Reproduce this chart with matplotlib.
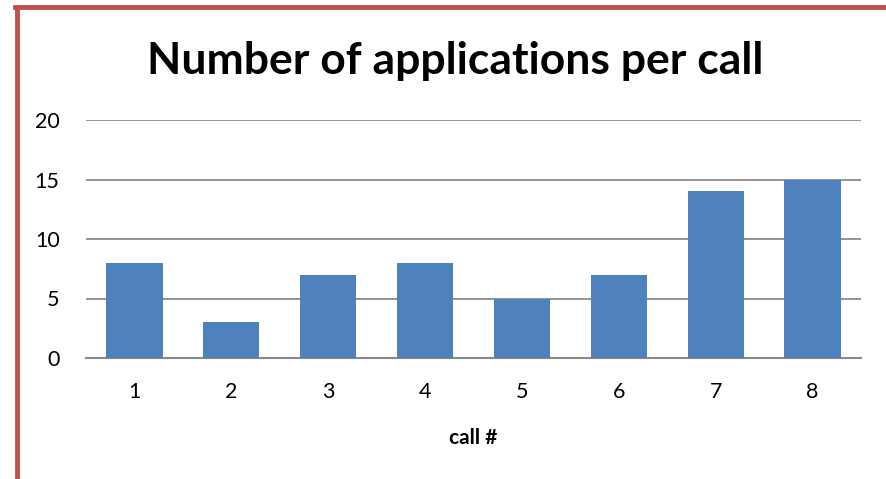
import matplotlib.pyplot as plt
from matplotlib.lines import Line2D

calls = ["1", "2", "3", "4", "5", "6", "7", "8"]
applications = [8, 3, 7, 8, 5, 7, 14, 15]
y_ticks = [0, 5, 10, 15, 20]

plt.rcParams["font.family"] = ["Lato", "DejaVu Sans"]

fig = plt.figure(figsize=(8.87, 4.79), dpi=100)
ax = fig.add_axes([86 / 887, 1 - 358 / 479, 775 / 887, 238 / 479])

x = list(range(len(calls)))
ax.bar(x, applications, width=0.58, color="#4F81BD", zorder=3)

ax.set_xlim(-0.5, len(calls) - 0.5)
ax.set_ylim(0, 20)
ax.set_yticks(y_ticks)
ax.set_xticks(x)
ax.set_xticklabels(calls)
ax.tick_params(axis="both", length=0, labelsize=15.5)
ax.tick_params(axis="y", pad=19)
ax.tick_params(axis="x", pad=17)
ax.yaxis.grid(True, color="#8a8a8a", linewidth=1.3, zorder=0)

for s in ["top", "right", "left"]:
    ax.spines[s].set_visible(False)
ax.spines["bottom"].set_color("#8a8a8a")
ax.spines["bottom"].set_linewidth(1.5)

ax.set_xlabel("call #", fontsize=15, fontweight="bold", labelpad=19)
fig.text(455 / 887, 1 - 61 / 479, "Number of applications per call",
         fontsize=32, fontweight="bold", ha="center", va="center")

# red frame around the chart
red = "#C0504D"
fig.add_artist(Line2D([17 / 887, 17 / 887], [0, 1 - 7 / 479], color=red, linewidth=3.5))
fig.add_artist(Line2D([15 / 887, 1], [1 - 7 / 479, 1 - 7 / 479], color=red, linewidth=3.5))

fig.savefig("out.png", dpi=100)
